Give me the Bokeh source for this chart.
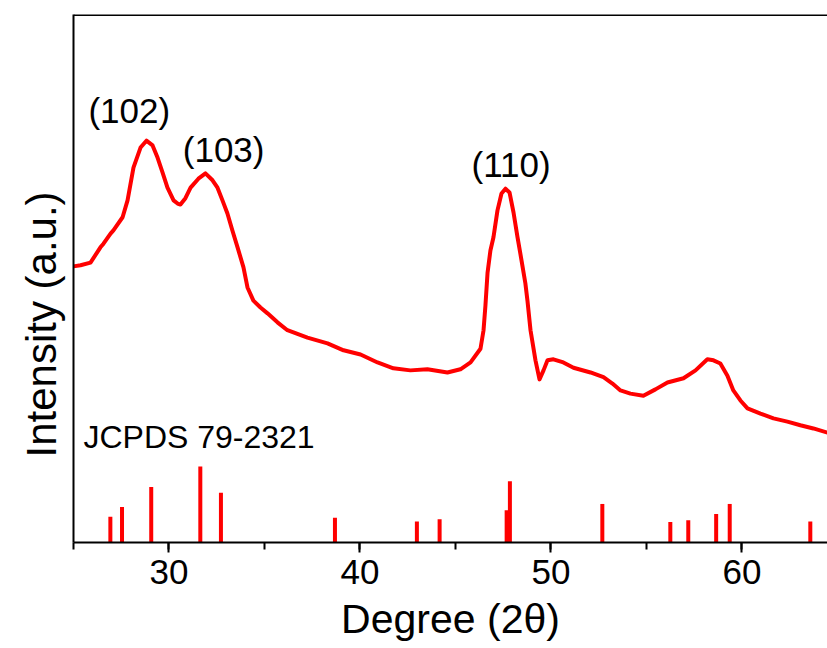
from bokeh.plotting import figure
from bokeh.models import Range1d, FixedTicker, SingleIntervalTicker, Span, ColumnDataSource, Title
from bokeh.core.properties import value
from bokeh.embed import file_html
from bokeh.resources import INLINE

# XRD pattern (2theta, intensity a.u.)
two_theta = [25.00, 25.37, 25.89, 26.41, 26.57, 26.94, 27.09, 27.57, 27.83, 28.14, 28.51, 28.82,
             29.14, 29.40, 29.66, 29.92, 30.24, 30.45, 30.60, 30.86, 31.13, 31.54, 31.91, 32.28,
             32.54, 32.80, 33.06, 33.32, 33.59, 33.90, 34.11, 34.42, 34.79, 35.16, 35.68, 36.20,
             37.25, 38.30, 39.14, 40.03, 40.92, 41.75, 42.64, 43.53, 44.58, 45.26, 45.79, 46.31,
             46.47, 46.57, 46.68, 46.83, 46.99, 47.20, 47.41, 47.62, 47.83, 48.04, 48.25, 48.46, 48.66,
             48.77, 48.93, 49.19, 49.40, 49.61, 49.82, 50.13, 50.65, 51.18, 52.07, 52.75, 53.22,
             53.64, 54.16, 54.84, 55.47, 56.10, 56.94, 57.57, 58.19, 58.51, 58.87, 59.24, 59.55,
             59.92, 60.29, 60.97, 61.65, 62.38, 63.06, 63.74, 64.48]
intensity = [52.3, 52.5, 53.0, 55.9, 56.6, 58.5, 59.1, 61.6, 64.8, 71.0, 74.8, 76.1,
             75.2, 72.9, 70.1, 67.2, 64.8, 64.2, 64.0, 65.2, 67.2, 68.9, 69.9, 68.6,
             67.2, 64.8, 62.3, 59.1, 55.9, 52.1, 48.3, 45.8, 44.5, 43.4, 41.7, 40.2,
             38.8, 37.7, 36.4, 35.6, 34.1, 33.0, 32.6, 32.8, 32.2, 32.8, 34.1, 36.7,
             40.2, 44.9, 51.1, 55.3, 57.8, 62.9, 66.1, 67.0, 66.3, 62.5, 57.8, 53.4, 49.1,
             45.8, 40.2, 34.5, 30.9, 32.6, 34.5, 34.7, 34.1, 33.1, 32.2, 31.3, 30.1,
             28.8, 28.2, 27.8, 29.0, 30.3, 31.1, 32.6, 34.7, 34.5, 33.9, 31.6, 28.8,
             26.9, 25.4, 24.4, 23.5, 22.9, 22.2, 21.6, 20.8]

# JCPDS 79-2321 reference lines
ref_pos = [26.93, 27.54, 29.07, 31.64, 32.72, 38.69, 42.98, 44.17, 47.68, 47.85,
           52.69, 56.25, 57.19, 58.65, 59.36, 63.58]
ref_height = [4.9, 6.7, 10.5, 14.4, 9.4, 4.7, 4.0, 4.4, 6.1, 11.6,
              7.3, 3.9, 4.2, 5.4, 7.3, 4.0]

# Peak annotations
peak_labels = ["(102)", "(103)", "(110)"]
peak_x = [27.92, 32.86, 47.91]
peak_y = [81.8, 74.4, 71.6]

ref_label = ["JCPDS 79-2321"]
ref_label_x = [25.52]
ref_label_y = [19.9]

x_title = "Degree (2θ)"
y_title = "Intensity (a.u.)"

FONT = "Liberation Sans"

p = figure(width=827, height=648, output_backend="svg", toolbar_location=None,
           x_range=Range1d(25, 64.48), y_range=Range1d(0, 100),
           min_border_left=73, min_border_right=0, min_border_top=14, min_border_bottom=106)
p.outline_line_color = None
p.grid.grid_line_color = None
p.background_fill_color = "white"
p.border_fill_color = "white"

p.add_layout(Span(location=100, dimension="width", line_color="black", line_width=3))

p.line(two_theta, intensity, line_color="#ff0000", line_width=4, line_join="round")
p.segment(x0=ref_pos, y0=[0] * len(ref_pos), x1=ref_pos, y1=ref_height,
          line_color="#ff0000", line_width=4)

src = ColumnDataSource(dict(x=peak_x, y=peak_y, t=peak_labels))
p.text(x="x", y="y", text="t", source=src, text_font=value(FONT), text_font_size="35px",
       text_align="center", text_baseline="middle", text_color="black")
src2 = ColumnDataSource(dict(x=ref_label_x, y=ref_label_y, t=ref_label))
p.text(x="x", y="y", text="t", source=src2, text_font=value(FONT), text_font_size="32px",
       text_align="left", text_baseline="middle", text_color="black")

xa = p.xaxis[0]
xa.ticker = SingleIntervalTicker(interval=10, num_minor_ticks=2)
xa.axis_line_width = 2
xa.axis_line_color = "black"
xa.major_tick_line_width = 2
xa.minor_tick_line_width = 2
xa.major_tick_line_color = "black"
xa.minor_tick_line_color = "black"
xa.major_tick_out = 10
xa.major_tick_in = 0
xa.minor_tick_out = 7
xa.minor_tick_in = 0
xa.major_label_text_font = FONT
xa.major_label_text_font_size = "35px"
xa.major_label_text_color = "black"
xa.major_label_standoff = 7
xa.axis_label = x_title
xa.axis_label_text_font = FONT
xa.axis_label_text_font_size = "41px"
xa.axis_label_text_font_style = "normal"
xa.axis_label_text_color = "black"
xa.axis_label_text_line_height = 1.0
xa.axis_label_standoff = 9

ya = p.yaxis[0]
ya.ticker = FixedTicker(ticks=[])
ya.axis_line_width = 2
ya.axis_line_color = "black"
ya.major_tick_line_color = None
ya.minor_tick_line_color = None

# y-axis title as a side title, starting above the frame bottom like the reference
p.add_layout(Title(text=y_title, align="left", vertical_align="top", offset=85, standoff=14,
                   text_font=FONT, text_font_size="42px", text_font_style="normal",
                   text_color="black"), "left")

open("out.html", "w").write(file_html(p, INLINE))
